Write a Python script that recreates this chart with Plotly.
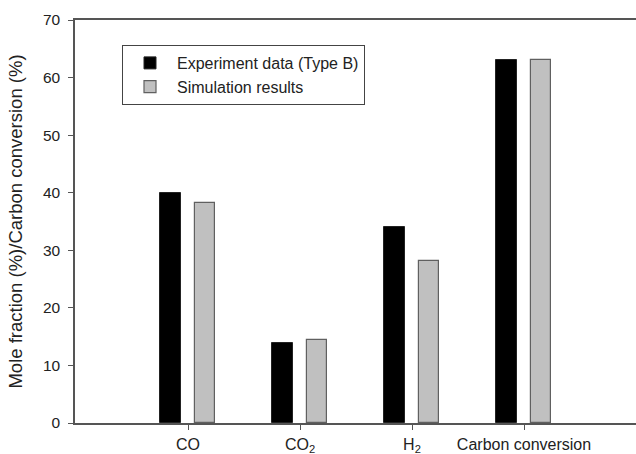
import plotly.graph_objects as go

categories = ["CO", "CO<sub>2</sub>", "H<sub>2</sub>", "Carbon conversion"]
positions = [1, 2, 3, 4]
experiment = [39.9, 13.9, 34.0, 63.0]
simulation = [38.3, 14.5, 28.2, 63.0]
y_ticks = [0, 10, 20, 30, 40, 50, 60, 70]

fig = go.Figure()
fig.add_trace(go.Bar(
    x=positions, y=experiment, name="Experiment data (Type B)",
    width=0.19, offset=-0.25,
    marker=dict(color="#000000", line=dict(color="#222222", width=1)),
))
fig.add_trace(go.Bar(
    x=positions, y=simulation, name="Simulation results",
    width=0.18, offset=0.063,
    marker=dict(color="#c0c0c0", line=dict(color="#606060", width=1.2)),
))

font_family = "Liberation Sans, Arial, sans-serif"
W, H = 650, 454
L, T, B = 75, 20, 31
PW, PH = W - L, H - T - B
fig.update_layout(
    width=W, height=H,
    margin=dict(l=L, r=0, t=T, b=B, autoexpand=False),
    paper_bgcolor="white", plot_bgcolor="white",
    font=dict(family=font_family, size=16, color="#222222"),
    showlegend=True,
    legend=dict(
        x=(122 - L) / PW, y=(423 - 45) / PH, xanchor="left", yanchor="top",
        bordercolor="#444444", borderwidth=1,
        font=dict(size=16, color="#222222"),
        bgcolor="white", tracegroupgap=0, itemwidth=44,
    ),
    bargap=0,
)
fig.update_xaxes(
    range=[-0.009, -0.009 + PW / 112], tickvals=positions, ticktext=categories,
    showline=True, linecolor="#555555", linewidth=1.5, mirror=True,
    ticks="outside", ticklen=5, tickcolor="#555555", tickwidth=1.2,
    showgrid=False, zeroline=False, tickfont=dict(size=16), automargin=False,
    ticklabelstandoff=1,
)
fig.update_yaxes(
    range=[0, 70], tickvals=y_ticks,
    showline=True, linecolor="#555555", linewidth=1.5, mirror=False,
    ticks="outside", ticklen=5, tickcolor="#555555", tickwidth=1.2,
    showgrid=False, zeroline=False, tickfont=dict(size=15.5), automargin=False,
    ticklabelstandoff=5,
    title=dict(text="Mole fraction (%)/Carbon conversion (%)", font=dict(size=18.5), standoff=15),
)
fig.write_html(
    "out.html",
    config={"displayModeBar": False},
    post_script="document.body.style.margin='0';document.body.style.overflow='hidden';",
)
